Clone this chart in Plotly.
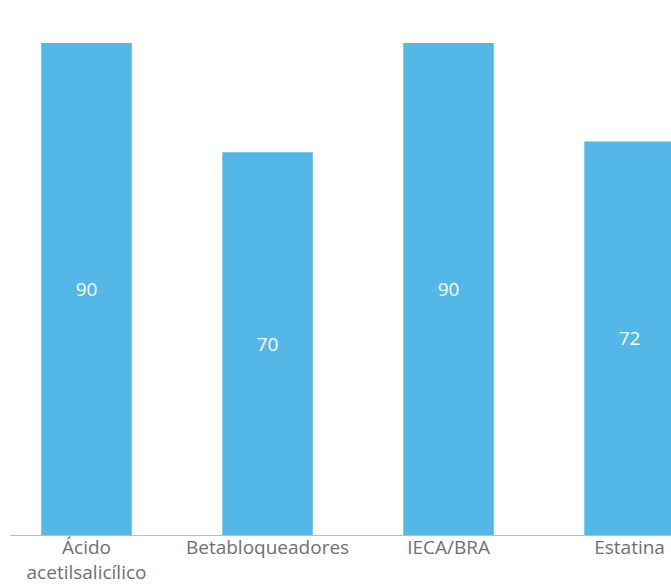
import plotly.graph_objects as go

categories = ["Ácido<br>acetilsalicílico", "Betabloqueadores", "IECA/BRA", "Estatina"]
values = [90, 70, 90, 72]

bar_color = "#53B8E8"

fig = go.Figure(
    go.Bar(
        x=categories,
        y=values,
        width=0.5,
        marker=dict(color=bar_color, line=dict(width=0)),
        text=[str(v) for v in values],
        textposition="inside",
        insidetextanchor="middle",
        textfont=dict(family="Open Sans", size=19, color="white"),
        hoverinfo="skip",
    )
)

fig.update_layout(
    width=671,
    height=586,
    margin=dict(l=10, r=0, t=0, b=51),
    paper_bgcolor="white",
    plot_bgcolor="white",
    showlegend=False,
    font=dict(family="Open Sans", size=19, color="#6e6e6e"),
    uniformtext=dict(mode=False),
)

fig.update_xaxes(
    range=[-0.4227, 3.229],
    automargin=False,
    showline=True,
    linecolor="#bdbdbd",
    linewidth=1,
    showgrid=False,
    ticks="",
    ticklabelstandoff=-5,
    tickfont=dict(family="Open Sans", size=19, color="#707070"),
    fixedrange=True,
)

fig.update_yaxes(
    range=[0, 97.87],
    automargin=False,
    showgrid=False,
    zeroline=False,
    showticklabels=False,
    showline=False,
    fixedrange=True,
)

fig.write_html("out.html", config={"displayModeBar": False})
